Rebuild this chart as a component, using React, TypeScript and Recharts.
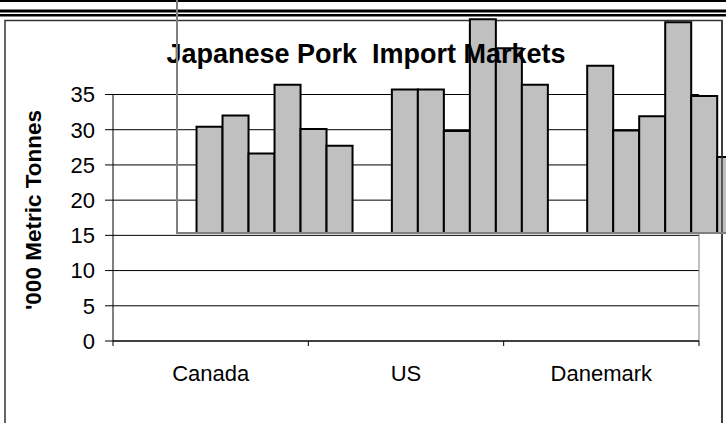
import React from 'react';
import {
  ComposedChart,
  BarChart,
  Bar,
  XAxis,
  YAxis,
  CartesianGrid,
  ReferenceLine,
} from 'recharts';

// chart values ('000 metric tonnes)
const categories = ['Canada', 'US', 'Danemark'];
const canada = [15.1, 16.7, 11.3, 21.1, 14.8, 12.4];
const us = [20.4, 20.4, 14.5, 30.4, 26.3, 21.1];
const danemark = [23.8, 14.6, 16.6, 30.0, 19.5, 10.8];
const seriesKeys = ['s1', 's2', 's3', 's4', 's5', 's6'];
const yTicks = [0, 5, 10, 15, 20, 25, 30, 35];
const title = 'Japanese Pork  Import Markets';
const yLabel = "'000 Metric Tonnes";

const FONT = '"Liberation Sans", Arial, sans-serif';

const rows = [canada, us, danemark];
const data = categories.map((name, i) => {
  const row: any = { name };
  seriesKeys.forEach((k, j) => {
    row[k] = rows[i][j];
  });
  return row;
});

// boundary ticks on whole numbers, category names in the middle
const xTicks = categories.flatMap((_, i) => [i, i + 0.5]).concat(categories.length);

const CategoryTick = ({ x, y, payload }: any) => {
  const v = payload.value;
  if (Number.isInteger(v)) {
    return <line x1={x} y1={y} x2={x} y2={y + 5} stroke="#000" />;
  }
  return (
    <text x={x} y={y + 40} textAnchor="middle" fontSize={22} fill="#000" fontFamily={FONT}>
      {categories[Math.floor(v)]}
    </text>
  );
};

const layer: React.CSSProperties = { position: 'absolute', left: 0, top: 0 };

const App = () => {
  return (
    <div
      style={{
        position: 'fixed',
        left: 0,
        top: 0,
        width: 726,
        height: 423,
        overflow: 'hidden',
        background: '#fff',
        fontFamily: FONT,
      }}
    >
      {/* page rules and chart frame */}
      <svg width={726} height={423} style={layer}>
        <rect x={0} y={0} width={726} height={2} fill="#000" />
        <rect x={0} y={9.5} width={726} height={3} fill="#000" />
        <rect x={0} y={14} width={726} height={2.5} fill="#000" />
        <rect x={5} y={20.5} width={717} height={500} fill="none" stroke="#333" strokeWidth={1.5} />
        <text
          x={41}
          y={210}
          transform="rotate(-90, 41, 210)"
          textAnchor="middle"
          fontSize={22.5}
          fontWeight="bold"
          fill="#000"
          fontFamily={FONT}
        >
          {yLabel}
        </text>
      </svg>

      {/* axes and gridlines */}
      <div style={layer}>
        <ComposedChart
          width={726}
          height={423}
          margin={{ top: 94.5, right: 27, bottom: 42, left: 53 }}
        >
          <CartesianGrid vertical={false} stroke="#000" />
          <XAxis
            type="number"
            dataKey="x"
            domain={[0, categories.length]}
            allowDataOverflow
            ticks={xTicks}
            interval={0}
            height={40}
            tickSize={0}
            tickMargin={0}
            tickLine={false}
            stroke="#000"
            tick={<CategoryTick />}
          />
          <YAxis
            type="number"
            domain={[0, 35]}
            allowDataOverflow
            ticks={yTicks}
            interval={0}
            width={60}
            tickSize={8}
            tickMargin={10}
            stroke="#000"
            tickLine={{ stroke: '#000' }}
            tick={{ fill: '#000', fontSize: 22, fontFamily: FONT }}
          />
          <ReferenceLine x={categories.length} stroke="#808080" />
        </ComposedChart>
      </div>

      {/* shifted plot area holding the bars */}
      <div style={{ position: 'absolute', left: 177, top: -13, width: 586, height: 246 }}>
        <BarChart
          width={586}
          height={246}
          data={data}
          margin={{ top: 0, right: 0, bottom: 0, left: 0 }}
          barGap={0}
          barCategoryGap="10%"
        >
          <XAxis dataKey="name" hide />
          <YAxis domain={[0, 35]} hide />
          {seriesKeys.map((k) => (
            <Bar
              key={k}
              dataKey={k}
              fill="#C0C0C0"
              stroke="#000"
              strokeWidth={2}
              isAnimationActive={false}
            />
          ))}
        </BarChart>
      </div>

      {/* title and right frame edge sit above the bars */}
      <svg width={726} height={423} style={layer}>
        <text
          x={366}
          y={63}
          textAnchor="middle"
          fontSize={27}
          fontWeight="bold"
          fill="#000"
          fontFamily={FONT}
          style={{ whiteSpace: 'pre' }}
        >
          {title}
        </text>
        <line x1={722} y1={20.5} x2={722} y2={423} stroke="#333" strokeWidth={1.5} />
      </svg>
      <div
        style={{
          position: 'absolute',
          left: 176,
          top: -20,
          width: 700,
          height: 254,
          boxSizing: 'border-box',
          borderLeft: '2px solid #808080',
          borderBottom: '2px solid #808080',
        }}
      />
    </div>
  );
};

export default App;
